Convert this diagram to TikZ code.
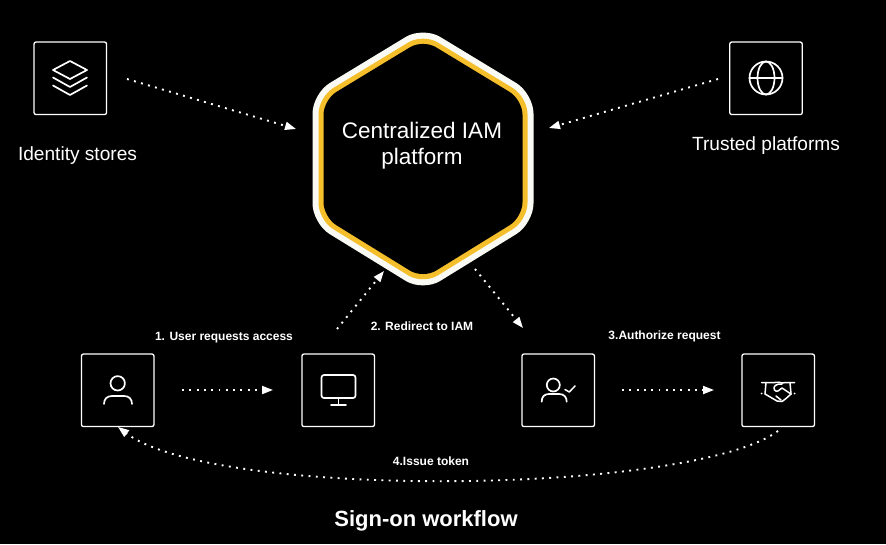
\documentclass[tikz,border=0pt]{standalone}
\usepackage{fontspec}
\setmainfont{Liberation Sans}
\usetikzlibrary{arrows.meta}
\definecolor{hexyellow}{HTML}{F5BE2B}
\definecolor{hexwhite}{HTML}{FAFAF5}
\tikzset{
  x=1pt,y=-1pt,
  iconbox/.style={draw=white,line width=1.3pt,rounded corners=2pt,minimum size=72.5pt,inner sep=0pt,fill=black},
  icon/.style={draw=white,line width=1.7pt,line cap=round,line join=round},
  flow/.style={draw=white,line width=1.9pt,dash pattern=on 1.9pt off 5.4pt,-{Triangle[length=11pt,width=8pt,fill=white]}},
  steplabel/.style={text=white,font=\fontsize{12}{14}\selectfont\bfseries,inner sep=0pt,anchor=center},
  caption/.style={text=white,font=\fontsize{19.1}{22}\selectfont,inner sep=0pt,anchor=center},
}
\newcommand{\hexpath}[1]{%
  (423,26.5+1.17*#1) -- (533.5-#1,93.5+0.57*#1) -- (533.5-#1,223.5-0.57*#1) -- (423,291.5-1.17*#1) -- (312.5+#1,223.5-0.57*#1) -- (312.5+#1,93.5+0.57*#1) -- cycle}
\begin{document}
\begin{tikzpicture}
\useasboundingbox[fill=black] (0,0) rectangle (886,544);
% hexagon
\fill[hexwhite,rounded corners=20pt] \hexpath{0};
\fill[hexyellow,rounded corners=17pt] \hexpath{6};
\fill[black,rounded corners=15pt] \hexpath{11};
\node[text=white,align=center,inner sep=0pt,font=\fontsize{22.5}{26}\selectfont] (iam) at (422,145.5) {Centralized IAM\\platform};
% boxes
\node[iconbox] (stores) at (70.3,78.3) {};
\node[iconbox] (trusted) at (766,78.3) {};
\node[iconbox] (user) at (117.7,390.3) {};
\node[iconbox] (screen) at (338.2,390.3) {};
\node[iconbox] (check) at (558.2,390.3) {};
\node[iconbox] (shake) at (778.2,390.3) {};
% captions
\node[caption] (storeslabel) at (77.5,155.5) {Identity stores};
\node[caption] (trustedlabel) at (766,145.5) {Trusted platforms};
\node[steplabel] (s1) at (224,337.5) {1. User requests access};
\node[steplabel] (s2) at (422,326.5) {2. Redirect to IAM};
\node[steplabel] (s3) at (664.5,336.5) {3.Authorize request};
\node[steplabel] (s4) at (431,461) {4.Issue token};
\node[text=white,inner sep=0pt,font=\fontsize{22}{24}\selectfont\bfseries] (title) at (426,520.5) {Sign-on workflow};
% icons
\draw[icon] (70,61) -- (87,70) -- (70,79) -- (53,70) -- cycle;
\draw[icon] (53,77.5) -- (70,87) -- (87,77.5);
\draw[icon] (53,85.5) -- (70,95) -- (87,85.5);
\draw[icon] (766,78) circle[radius=16.5];
\draw[icon] (766,78) ellipse[x radius=8.5,y radius=16.5];
\draw[icon] (749.5,78) -- (782.5,78);
\draw[icon] (117.7,383.3) circle[radius=7.2];
\draw[icon] (104,404) .. controls (104,399) and (107,396) .. (112,396) -- (124,396) .. controls (129,396) and (132,399) .. (132,404);
\draw[icon] (324,375) -- (353,375) .. controls (354.5,375) and (355.5,376) .. (355.5,377.5) -- (355.5,395.5) .. controls (355.5,397) and (354.5,398) .. (353,398) -- (324,398) .. controls (322.5,398) and (321.5,397) .. (321.5,395.5) -- (321.5,377.5) .. controls (321.5,376) and (322.5,375) .. (324,375) -- cycle;
\draw[icon] (338.5,398) -- (338.5,405);
\draw[icon] (331,405) -- (346,405);
\draw[icon] (553.3,385) circle[radius=6.5];
\draw[icon] (541.7,401.7) .. controls (541.7,397) and (544,394) .. (549,394) -- (559,394) .. controls (564,394) and (566.7,397) .. (566.7,401.7);
\draw[icon,line width=1.5pt] (565,389.5) -- (569.3,392) -- (575,386);
% handshake
\draw[icon,line width=1.5pt] (761.5,382.5) -- (770,382.5) .. controls (774,383.5) and (778,381) .. (782,383);
\draw[icon,line width=1.5pt] (794.5,382.5) -- (786,382.5) -- (782,383);
\draw[icon,line width=1.5pt] (766,382.5) -- (765,394);
\draw[icon,line width=1.5pt] (790,382.5) -- (791,394);
\draw[icon,line width=1.5pt] (782,384) .. controls (776,383.5) and (772.5,386.5) .. (774.5,390) .. controls (776.5,393) and (780,390) .. (782,388) -- (791,394);
\draw[icon,line width=1.5pt] (765,394) -- (771,397.5) -- (777,401) -- (782,401.5) -- (786,398.5) -- (791,394);
\draw[icon,line width=1.5pt] (776,396) -- (781,400);
\fill[white] (761.5,393.5) circle[radius=1];
\fill[white] (794.5,393.5) circle[radius=1];
% connector ends
\coordinate (a1s) at (127,79);
\coordinate (a1e) at (296,129);
\coordinate (a2s) at (718,79);
\coordinate (a2e) at (549,128);
\coordinate (a3s) at (337,329);
\coordinate (a3e) at (384,271);
\coordinate (a4s) at (475,269);
\coordinate (a4e) at (523,328);
\coordinate (a5s) at (182,390);
\coordinate (a5e) at (273,390);
\coordinate (a6s) at (622,390);
\coordinate (a6e) at (714,390);
\coordinate (a7s) at (778,431);
\coordinate (a7e) at (118,427);
\draw[flow] (a1s) -- (a1e);
\draw[flow] (a2s) -- (a2e);
\draw[flow] (a3s) -- (a3e);
\draw[flow] (a4s) -- (a4e);
\draw[flow] (a5s) -- (a5e);
\draw[flow] (a6s) -- (a6e);
\draw[flow] (a7s) .. controls (690,495) and (215,500) .. (a7e);
\end{tikzpicture}
\end{document}
